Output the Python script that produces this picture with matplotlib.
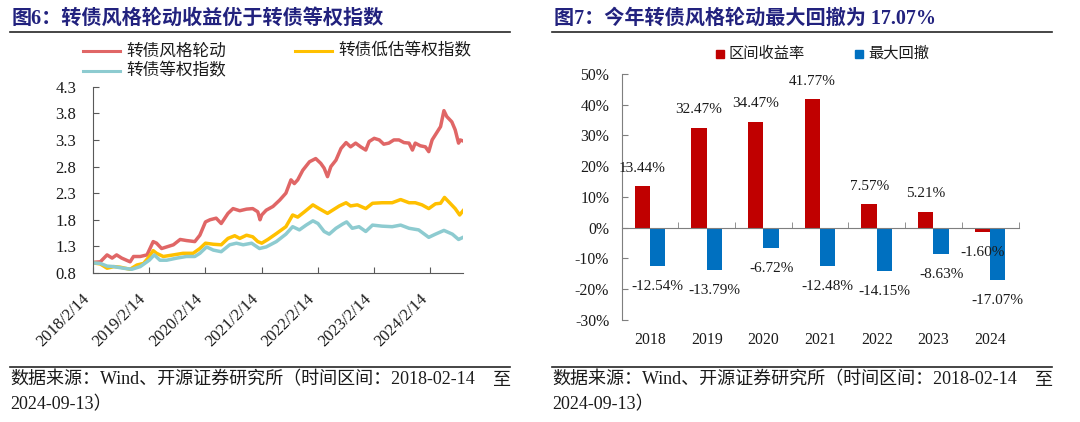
import numpy as np
import pandas as pd
import matplotlib
matplotlib.use('Agg')
import matplotlib.pyplot as plt
from matplotlib.lines import Line2D
from matplotlib.patches import Rectangle

plt.rcParams['font.family'] = ['Liberation Serif', 'Noto Sans CJK SC']

# ---------------- left chart: index curves (years after 2018-02-14) ----------------
start_date = pd.Timestamp('2018-02-14')
end_date = pd.Timestamp('2024-09-13')

rot_t = [0.00, 0.13, 0.25, 0.34, 0.42, 0.51, 0.66, 0.72, 0.84, 0.96,
         1.00, 1.07, 1.13, 1.22, 1.31, 1.43, 1.55, 1.66, 1.81, 1.90,
         2.00, 2.08, 2.19, 2.28, 2.40, 2.49, 2.61, 2.73, 2.84, 2.93,
         2.97, 3.00, 3.08, 3.20, 3.32, 3.43, 3.52, 3.58, 3.64, 3.73,
         3.85, 3.96, 4.05, 4.11, 4.17, 4.23, 4.32, 4.41, 4.50, 4.58,
         4.67, 4.76, 4.85, 4.91, 5.00, 5.09, 5.17, 5.26, 5.35, 5.44,
         5.53, 5.62, 5.68, 5.73, 5.82, 5.91, 5.97, 6.03, 6.12, 6.18,
         6.24, 6.29, 6.38, 6.44, 6.50, 6.53, 6.58]
rot_v = [1.00, 1.01, 1.14, 1.08, 1.14, 1.08, 1.01, 1.11, 1.11, 1.14,
         1.23, 1.39, 1.36, 1.26, 1.29, 1.33, 1.43, 1.41, 1.39, 1.51,
         1.76, 1.80, 1.83, 1.73, 1.92, 2.01, 1.97, 2.00, 2.01, 1.95,
         1.80, 1.89, 1.98, 2.05, 2.17, 2.30, 2.55, 2.48, 2.55, 2.73,
         2.89, 2.95, 2.86, 2.77, 2.61, 2.80, 2.92, 3.14, 3.25, 3.17,
         3.24, 3.17, 3.11, 3.27, 3.33, 3.30, 3.22, 3.24, 3.30, 3.30,
         3.25, 3.24, 3.11, 3.24, 3.19, 3.17, 3.08, 3.30, 3.45, 3.55,
         3.85, 3.74, 3.64, 3.49, 3.24, 3.30, 3.28]

low_t = [0.00, 0.13, 0.25, 0.37, 0.48, 0.66, 0.78, 0.90, 1.00, 1.07,
         1.13, 1.25, 1.43, 1.60, 1.78, 1.90, 2.00, 2.14, 2.28, 2.40,
         2.52, 2.61, 2.73, 2.84, 2.93, 3.00, 3.11, 3.26, 3.43, 3.55,
         3.64, 3.76, 3.91, 4.02, 4.17, 4.26, 4.38, 4.50, 4.58, 4.70,
         4.85, 4.97, 5.14, 5.32, 5.47, 5.62, 5.73, 5.85, 5.97, 6.09,
         6.18, 6.25, 6.35, 6.44, 6.52, 6.58]
low_v = [0.99, 0.97, 0.89, 0.92, 0.91, 0.87, 0.95, 0.98, 1.11, 1.22,
         1.17, 1.11, 1.14, 1.17, 1.17, 1.26, 1.36, 1.34, 1.33, 1.45,
         1.50, 1.45, 1.51, 1.48, 1.39, 1.36, 1.43, 1.54, 1.67, 1.89,
         1.85, 1.95, 2.08, 2.01, 1.92, 1.98, 2.06, 2.12, 2.06, 2.08,
         2.01, 2.11, 2.12, 2.12, 2.18, 2.12, 2.12, 2.08, 2.01, 2.10,
         2.11, 2.22, 2.11, 2.01, 1.89, 1.97]

eq_t = [0.00, 0.13, 0.25, 0.37, 0.54, 0.69, 0.84, 1.00, 1.09, 1.19,
        1.31, 1.49, 1.66, 1.81, 1.90, 2.02, 2.14, 2.28, 2.43, 2.55,
        2.67, 2.82, 2.96, 3.08, 3.26, 3.43, 3.55, 3.67, 3.79, 3.91,
        4.00, 4.11, 4.20, 4.32, 4.44, 4.51, 4.61, 4.73, 4.85, 4.97,
        5.14, 5.32, 5.47, 5.62, 5.79, 5.97, 6.09, 6.24, 6.39, 6.50,
        6.58]
eq_v = [0.99, 0.98, 0.93, 0.92, 0.89, 0.87, 0.92, 1.04, 1.14, 1.04,
        1.04, 1.08, 1.11, 1.11, 1.17, 1.29, 1.23, 1.20, 1.33, 1.36,
        1.33, 1.36, 1.26, 1.29, 1.39, 1.53, 1.67, 1.61, 1.70, 1.78,
        1.73, 1.58, 1.53, 1.64, 1.72, 1.76, 1.64, 1.67, 1.58, 1.70,
        1.68, 1.67, 1.70, 1.64, 1.61, 1.47, 1.53, 1.60, 1.53, 1.43,
        1.47]

line_names = ['转债风格轮动', '转债低估等权指数', '转债等权指数']
line_colors = ['#E06666', '#FFC000', '#8DCBD0']
y_ticks = [0.8, 1.3, 1.8, 2.3, 2.8, 3.3, 3.8, 4.3]
tick_years = [2018, 2019, 2020, 2021, 2022, 2023, 2024]

# ---------------- right chart: yearly return / drawdown ----------------
years = ['2018', '2019', '2020', '2021', '2022', '2023', '2024']
period_return = [13.44, 32.47, 34.47, 41.77, 7.57, 5.21, -1.60]
max_drawdown = [-12.54, -13.79, -6.72, -12.48, -14.15, -8.63, -17.07]
bar_names = ['区间收益率', '最大回撤']
bar_colors = ['#C00000', '#0070C0']

title_left = '图6：转债风格轮动收益优于转债等权指数'
title_right = '图7：今年转债风格轮动最大回撤为 17.07%'
source_1 = '数据来源：Wind、开源证券研究所（时间区间：2018-02-14'
source_end = '至'
source_2 = '2024-09-13）'

W, H = 1080, 422


def fx(x):
    return x / W


def fy(y):
    return 1 - y / H


def to_dates(t):
    return start_date + pd.to_timedelta(np.asarray(t) * 365.25, unit='D')


fig = plt.figure(figsize=(W / 100, H / 100), dpi=100)
tick_color = '#1a1a1a'
navy = '#22227E'

# ---------- left panel ----------
ax1 = fig.add_axes([fx(93), fy(273), (463 - 93) / W, (273 - 86.7) / H])
for t, v, c in zip([rot_t, low_t, eq_t], [rot_v, low_v, eq_v], line_colors):
    ax1.plot(to_dates(t), v, color=c, lw=2.5, solid_joinstyle='round')
ax1.set_xlim(start_date, end_date)
ax1.set_ylim(0.8, 4.3)
ax1.set_yticks(y_ticks, [f'{v:.1f}' for v in y_ticks])
ax1.set_xticks([pd.Timestamp(f'{y}-02-14') for y in tick_years],
               [f'{y}/2/14' for y in tick_years], rotation=45, ha='right')
for s in ['top', 'right']:
    ax1.spines[s].set_visible(False)
for s in ['left', 'bottom']:
    ax1.spines[s].set_color('#595959')
ax1.tick_params(axis='y', direction='in', length=4, pad=12, labelsize=12,
                color='#595959', labelcolor=tick_color)
ax1.tick_params(axis='x', direction='in', length=4, pad=13, labelsize=12,
                color='#595959', labelcolor=tick_color)

# legend drawn in figure pixels
leg_pos = [(83, 51), (295, 51), (83, 71)]
for (lx, ly), name, c in zip(leg_pos, line_names, line_colors):
    fig.add_artist(Line2D([fx(lx), fx(lx + 37)], [fy(ly), fy(ly)], color=c,
                          lw=2.2, transform=fig.transFigure))
    fig.text(fx(lx + 43), fy(ly), name, fontsize=12, va='center', ha='left',
             family='Noto Sans CJK SC', color=tick_color)

# ---------- right panel ----------
ax2 = fig.add_axes([fx(621.7), fy(319.6), (1018.5 - 621.7) / W, (319.6 - 74) / H])
x = np.arange(len(years))
bw = 0.27
ax2.bar(x - bw / 2, period_return, bw, color=bar_colors[0])
ax2.bar(x + bw / 2, max_drawdown, bw, color=bar_colors[1])
ax2.set_xlim(-0.5, len(years) - 0.5)
ax2.set_ylim(-30, 50)
ax2.set_yticks(range(-30, 51, 10), [f'{v}%' for v in range(-30, 51, 10)])
ax2.set_xticks([])
ax2.set_xticks(np.arange(len(years) + 1) - 0.5, minor=True)
ax2.spines['bottom'].set_position(('data', 0))
for s in ['top', 'right']:
    ax2.spines[s].set_visible(False)
for s in ['left', 'bottom']:
    ax2.spines[s].set_color('#7F7F7F')
ax2.tick_params(axis='y', direction='in', length=4, pad=9, labelsize=11.3,
                color='#7F7F7F', labelcolor=tick_color)
ax2.tick_params(axis='x', which='minor', direction='in', length=4, color='#7F7F7F')

for i, yr in enumerate(years):
    ax2.annotate(yr, xy=(i, 0), xycoords=('data', 'axes fraction'),
                 xytext=(0, -14.7), textcoords='offset points',
                 ha='center', va='center', fontsize=11.3, color=tick_color)
for xs, vals in [(x - bw / 2, period_return), (x + bw / 2, max_drawdown)]:
    for xi, v in zip(xs, vals):
        off = 13 if v >= 0 else -14.8
        ax2.annotate(f'{v:.2f}%', xy=(xi, v), xytext=(0, off),
                     textcoords='offset points', ha='center', va='center',
                     fontsize=11, color=tick_color)

# legend squares
for (sx, sy), name, c in zip([(716, 53.5), (855, 53.5)], bar_names, bar_colors):
    fig.add_artist(Rectangle((fx(sx), fy(sy + 4)), 8 / W, 8 / H, color=c,
                             transform=fig.transFigure))
    fig.text(fx(sx + 13), fy(sy), name, fontsize=11, va='center', ha='left',
             family='Noto Sans CJK SC', color=tick_color)

# ---------- titles, rules and sources ----------
for x0, x1, title in [(10, 510, title_left), (552, 1052, title_right)]:
    fig.text(fx(x0 + 2), fy(18.5), title, fontsize=14.5, fontweight='bold',
             color=navy, va='center', ha='left')
    for ly in [32, 366.5]:
        fig.add_artist(Line2D([fx(x0), fx(x1)], [fy(ly), fy(ly)], color='#262626',
                              lw=1.2, transform=fig.transFigure))
    fig.text(fx(x0), fy(380), source_1, fontsize=13, va='center', ha='left',
             color=tick_color)
    fig.text(fx(x1), fy(380), source_end, fontsize=13, va='center', ha='right',
             color=tick_color)
    fig.text(fx(x0), fy(405), source_2, fontsize=13, va='center', ha='left',
             color=tick_color)

fig.savefig('out.png', dpi=100)
